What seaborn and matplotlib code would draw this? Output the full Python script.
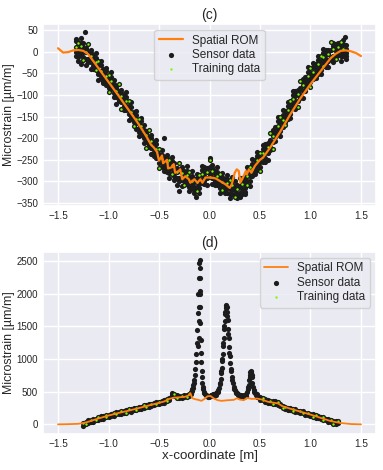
import numpy as np
import matplotlib
matplotlib.use("Agg")
import matplotlib.pyplot as plt
from matplotlib.ticker import MultipleLocator
import seaborn as sns

# -------------------- DATA (c) --------------------

rom_c_x = [-1.5, -1.45, -1.4, -1.35, -1.3, -1.25, -1.2, -1.15, -1.1, -1.0, -0.9, -0.8, -0.7,
           -0.62, -0.58, -0.55, -0.52, -0.5, -0.47, -0.46, -0.42, -0.41, -0.37, -0.355, -0.34,
           -0.305, -0.29, -0.27, -0.24, -0.205, -0.19, -0.15, -0.12, -0.09, -0.07, -0.04, 0.01,
           0.06, 0.11, 0.16, 0.2, 0.22, 0.25, 0.27, 0.29, 0.305, 0.33, 0.36, 0.37, 0.39, 0.415,
           0.45, 0.5, 0.53, 0.6, 0.7, 0.8, 0.9, 1.0, 1.1, 1.2, 1.25, 1.3, 1.35, 1.4, 1.45, 1.5]
rom_c_y = [8, -2, -1, 3, 4, 2, -6, -22, -38, -70, -102, -135, -168,
           -198, -215, -222, -232, -252, -240, -258, -250, -270, -267, -260, -280,
           -276, -272, -295, -288, -295, -303, -295, -303, -295, -303, -291, -291,
           -293, -300, -307, -315, -307, -280, -272, -276, -303, -292, -276, -284, -272, -280,
           -264, -250, -245, -222, -185, -145, -108, -75, -45, -15, -5, 2, 3, 1, -3, -10]

sens_c_x = [
    -1.325, -1.3, -1.275, -1.25, -1.225, -1.2, -1.175, -1.15, -1.125, -1.1, -1.075, -1.05,
    -1.025, -1.0, -0.975, -0.95, -0.925, -0.9, -0.875, -0.85, -0.825, -0.8, -0.775, -0.75,
    -0.725, -0.7, -0.675, -0.65, -0.625, -0.6, -0.575, -0.55, -0.525, -0.5, -0.475, -0.45,
    -0.425, -0.4, -0.375, -0.35, -0.325, -0.3, -0.275, -0.25, -0.225, -0.2, -0.175, -0.15,
    -0.125, -0.1, -0.075, -0.05, -0.025, 0.0, 0.025, 0.05, 0.075, 0.1, 0.125, 0.15,
    0.175, 0.2, 0.225, 0.25, 0.275, 0.3, 0.325, 0.35, 0.375, 0.4, 0.425, 0.45,
    0.475, 0.5, 0.525, 0.55, 0.575, 0.6, 0.625, 0.65, 0.675, 0.7, 0.725, 0.75,
    0.775, 0.8, 0.825, 0.85, 0.875, 0.9, 0.925, 0.95, 0.975, 1.0, 1.025, 1.05,
    1.075, 1.1, 1.125, 1.15, 1.175, 1.2, 1.225, 1.25, 1.275, 1.3, 1.325, 1.35]
sens_c_hi = [
    30, 20, 32, 20, 9, 17, 5, -8, -2, -21, -22, -41,
    -38, -53, -48, -65, -80, -75, -88, -101, -94, -113, -117, -139,
    -138, -155, -153, -170, -183, -180, -193, -208, -204, -225, -227, -244,
    -238, -250, -243, -257, -268, -258, -267, -276, -264, -279, -277, -294,
    -283, -285, -265, -267, -268, -250, -262, -276, -267, -283, -280, -294,
    -286, -297, -289, -300, -308, -293, -292, -291, -267, -266, -249, -251,
    -233, -235, -215, -214, -210, -187, -180, -174, -150, -151, -135, -137,
    -116, -113, -91, -92, -88, -67, -62, -58, -36, -38, -25, -29,
    -11, -11, 7, 4, 4, 22, 20, 17, 19, 23, 28, 16]
sens_c_up = [
    24, 6, 20, 12, 2, 2, -4, -14, -14, -30, -31, -50,
    -45, -62, -58, -74, -84, -92, -95, -108, -104, -125, -128, -146,
    -146, -166, -161, -180, -188, -198, -200, -216, -214, -236, -238, -253,
    -247, -260, -252, -268, -272, -275, -274, -284, -275, -290, -288, -302,
    -292, -296, -274, -278, -272, -266, -270, -284, -278, -294, -290, -303,
    -295, -308, -298, -310, -313, -310, -299, -299, -278, -277, -260, -260,
    -242, -245, -224, -224, -215, -204, -187, -182, -160, -162, -146, -146,
    -125, -123, -100, -102, -93, -84, -69, -66, -46, -49, -36, -38,
    -20, -22, -3, -6, -1, 5, 13, 9, 15, 12, 17, 7]
sens_c_mid = [
    12, -1, 13, -1, -1, -17, -9, -24, -23, -43, -44, -59,
    -56, -74, -67, -86, -90, -109, -102, -117, -115, -135, -139, -157,
    -156, -176, -172, -191, -193, -214, -207, -224, -225, -247, -249, -262,
    -256, -271, -262, -278, -278, -292, -281, -292, -285, -301, -299, -312,
    -301, -306, -284, -288, -278, -284, -276, -292, -288, -305, -302, -312,
    -304, -318, -308, -321, -318, -327, -306, -307, -288, -288, -271, -269,
    -251, -256, -234, -235, -220, -221, -194, -190, -171, -173, -157, -155,
    -134, -134, -110, -113, -98, -101, -76, -74, -57, -60, -47, -47,
    -29, -32, -12, -17, -6, -12, 6, 1, 12, 1, 6, -2]
sens_c_dn = [
    0, -12, 5, -12, -18, -21, -24, -33, -34, -52, -54, -67,
    -68, -83, -76, -96, -104, -112, -117, -125, -126, -145, -148, -163,
    -166, -186, -182, -200, -208, -218, -222, -232, -236, -258, -257, -269,
    -267, -280, -272, -288, -293, -295, -296, -300, -295, -312, -308, -319,
    -312, -316, -294, -298, -293, -288, -291, -300, -298, -316, -310, -319,
    -315, -328, -318, -328, -328, -330, -318, -315, -298, -299, -280, -276,
    -262, -266, -244, -245, -235, -224, -209, -198, -181, -184, -166, -162,
    -145, -144, -120, -122, -113, -104, -91, -82, -67, -71, -56, -54,
    -40, -42, -22, -26, -21, -15, -9, -8, 2, -10, -3, -9]
sens_c_lo = [
    -10, -21, -7, -20, -31, -23, -39, -41, -43, -65, -61, -73,
    -78, -94, -87, -105, -120, -115, -132, -134, -135, -157, -156, -171,
    -178, -196, -192, -210, -223, -220, -237, -241, -245, -269, -266, -276,
    -278, -291, -282, -297, -308, -298, -311, -309, -305, -323, -316, -326,
    -323, -326, -304, -307, -308, -290, -306, -309, -308, -327, -319, -326,
    -326, -338, -328, -335, -338, -333, -330, -324, -308, -310, -288, -283,
    -273, -276, -254, -254, -250, -227, -224, -207, -191, -195, -174, -169,
    -156, -154, -130, -132, -128, -107, -106, -91, -77, -82, -64, -61,
    -51, -52, -32, -36, -36, -18, -24, -16, -8, -21, -11, -16]
outl_c_x = [-1.23, -1.27, 1.34, -0.45, 0.0, -0.13, 0.3, 0.35, -0.3, -1.31]
outl_c_y = [45, -28, 33, -200, -245, -337, -337, -330, -322, 25]

# -------------------- DATA (d) --------------------

rom_d_x = [-1.5, -1.4, -1.3, -1.25, -1.2, -1.1, -1.0, -0.9, -0.8, -0.7, -0.6, -0.5, -0.45,
           -0.4, -0.35, -0.3, -0.25, -0.21, -0.19, -0.17, -0.14, -0.11, -0.08, -0.05, -0.02,
           0.01, 0.04, 0.08, 0.12, 0.18, 0.24, 0.27, 0.3, 0.34, 0.37, 0.42, 0.47, 0.52, 0.58,
           0.64, 0.68, 0.72, 0.8, 0.9, 1.0, 1.1, 1.2, 1.3, 1.4, 1.5]
rom_d_y = [0, 3, 8, 20, 40, 90, 135, 175, 210, 250, 290, 330, 350,
           390, 410, 415, 420, 440, 480, 400, 385, 375, 360, 390, 430,
           435, 400, 370, 360, 370, 375, 400, 380, 370, 405, 390, 395, 380, 345,
           330, 320, 280, 240, 195, 150, 100, 50, 20, 5, 0]

band_d_x = [
    -1.25, -1.225, -1.2, -1.175, -1.15, -1.125, -1.1, -1.075, -1.05, -1.025, -1.0,
    -0.975, -0.95, -0.925, -0.9, -0.875, -0.85, -0.825, -0.8, -0.775, -0.75, -0.725,
    -0.7, -0.675, -0.65, -0.625, -0.6, -0.575, -0.55, -0.525, -0.5, -0.475, -0.45,
    -0.425, -0.4, -0.375, -0.35, -0.325, -0.3, -0.275, -0.25, -0.225, -0.2,
    0.475, 0.5, 0.525, 0.55, 0.575, 0.6, 0.625, 0.65, 0.675, 0.7, 0.725,
    0.75, 0.775, 0.8, 0.825, 0.85, 0.875, 0.9, 0.925, 0.95, 0.975, 1.0,
    1.025, 1.05, 1.075, 1.1, 1.125, 1.15, 1.175, 1.2, 1.225, 1.25, 1.275]
band_d_hi = [
    28, 37, 62, 67, 85, 88, 107, 124, 125, 143, 149,
    163, 167, 187, 190, 203, 202, 217, 234, 233, 249, 254,
    268, 272, 292, 295, 312, 310, 327, 344, 343, 361, 369,
    388, 402, 482, 465, 445, 430, 437, 449, 448, 469,
    458, 412, 407, 385, 375, 355, 352, 354, 338, 319, 284,
    268, 250, 250, 233, 228, 208, 205, 202, 179, 174, 159,
    153, 137, 135, 115, 108, 85, 79, 72, 51, 49, 49]
band_d_lo = [
    -18, 3, 28, 32, 40, 64, 71, 89, 89, 107, 114,
    129, 133, 153, 155, 158, 178, 181, 199, 197, 213, 219,
    234, 238, 258, 260, 267, 286, 291, 309, 307, 325, 334,
    354, 368, 448, 430, 400, 406, 401, 414, 412, 433,
    424, 378, 373, 350, 330, 331, 316, 319, 302, 283, 249,
    234, 216, 216, 198, 183, 184, 169, 167, 143, 138, 124,
    119, 103, 101, 80, 63, 61, 43, 37, 2, 13, 14]

peak_d_x = [
    -0.19, -0.18, -0.17, -0.16, -0.15, -0.145, -0.14, -0.135, -0.13, -0.125, -0.12, -0.115,
    -0.11, -0.105, -0.1, -0.098, -0.112, -0.108, -0.104, -0.102, -0.099, -0.096, -0.094,
    -0.095, -0.092, -0.09, -0.088, -0.085, -0.082, -0.078, -0.074, -0.07, -0.065, -0.06,
    -0.05, -0.04, -0.03, -0.02, -0.01, 0.0, 0.01, 0.02, 0.03,
    -0.185, -0.175, -0.165, -0.155, -0.05, -0.035, -0.025, -0.015, -0.005, 0.005, 0.015, 0.025,
    0.04, 0.05, 0.06, 0.07, 0.08, 0.09, 0.1, 0.11, 0.115, 0.12, 0.125, 0.13, 0.135, 0.14,
    0.145, 0.15, 0.155, 0.16, 0.165, 0.17, 0.175, 0.18, 0.185, 0.19, 0.195, 0.2, 0.205,
    0.21, 0.22, 0.23, 0.24, 0.25, 0.26, 0.27, 0.28, 0.29, 0.3, 0.31, 0.32,
    0.045, 0.065, 0.085, 0.105, 0.118, 0.128, 0.138, 0.148, 0.158, 0.168, 0.178, 0.188,
    0.198, 0.212, 0.225, 0.245, 0.265, 0.285, 0.305,
    0.33, 0.34, 0.35, 0.36, 0.37, 0.38, 0.39, 0.395, 0.4, 0.405, 0.41, 0.415, 0.42, 0.425,
    0.43, 0.44, 0.45, 0.46, 0.386, 0.398, 0.408, 0.418, 0.345, 0.365, 0.445]
peak_d_y = [
    470, 500, 540, 600, 680, 750, 850, 950, 1080, 1250, 1450, 1700,
    2000, 2250, 2480, 2520, 1200, 1320, 1580, 1800, 2050, 2250, 2400,
    2000, 1800, 1550, 1300, 1100, 950, 820, 720, 640, 580, 540,
    500, 470, 450, 440, 435, 440, 445, 450, 460,
    460, 510, 560, 640, 480, 455, 430, 420, 425, 430, 430, 445,
    460, 465, 480, 500, 520, 560, 620, 700, 780, 870, 970, 1080, 1200, 1330,
    1460, 1580, 1690, 1780, 1830, 1800, 1720, 1600, 1460, 1320, 1180, 1050, 940,
    850, 720, 630, 570, 530, 500, 480, 470, 455, 450, 445, 440,
    440, 455, 500, 640, 820, 1000, 1250, 1500, 1720, 1820, 1660, 1380,
    1100, 820, 680, 540, 480, 450, 430,
    440, 445, 455, 470, 500, 540, 610, 680, 750, 800, 820, 790, 720, 640,
    580, 520, 480, 450, 580, 720, 810, 760, 425, 440, 490]

ROM_COLOR = "#ff7f0e"
SENSOR_COLOR = "#1c1c1c"
TRAIN_COLOR = "#7cfc00"
YLABEL = "Microstrain [\u00b5m/m]"

# -------------------- PLOT --------------------

sns.set_theme(style="darkgrid")
plt.rcParams["font.family"] = ["Liberation Sans", "DejaVu Sans"]
plt.rcParams["xtick.labelsize"] = 7.2
plt.rcParams["ytick.labelsize"] = 7.0

fig, (ax1, ax2) = plt.subplots(2, 1, figsize=(3.83, 4.70), dpi=100)
fig.subplots_adjust(left=0.112, right=0.982, top=0.949, bottom=0.077, hspace=0.25)

legend_kw = dict(fontsize=8.5, borderpad=0.4, handletextpad=0.8,
                 labelspacing=0.2, handlelength=2.0)

# (c)
sc_x = sens_c_x * 5 + outl_c_x
sc_y = sens_c_hi + sens_c_up + sens_c_mid + sens_c_dn + sens_c_lo + outl_c_y
tr_c_x = sens_c_x[::2] + sens_c_x[1::4] + sens_c_x[3::5]
tr_c_y = sens_c_mid[::2] + sens_c_hi[1::4] + sens_c_lo[3::5]

sns.lineplot(x=rom_c_x, y=rom_c_y, ax=ax1, color=ROM_COLOR, lw=1.6,
             sort=False, estimator=None, label="Spatial ROM")
sns.scatterplot(x=sc_x, y=sc_y, ax=ax1, color=SENSOR_COLOR, s=14, linewidth=0,
                label="Sensor data")
sns.scatterplot(x=tr_c_x, y=tr_c_y, ax=ax1, color=TRAIN_COLOR, s=3, linewidth=0,
                label="Training data")
ax1.set_title("(c)", fontsize=10, pad=3.5)
ax1.set_ylabel(YLABEL, fontsize=8.9)
ax1.xaxis.set_major_locator(MultipleLocator(0.5))
ax1.yaxis.set_major_locator(MultipleLocator(50))
ax1.legend(loc="upper center", **legend_kw)

# (d)
sd_x = band_d_x * 2 + peak_d_x
sd_y = band_d_hi + band_d_lo + peak_d_y
tr_d_x = band_d_x[::3] + band_d_x[1::4]
tr_d_y = band_d_hi[::3] + band_d_lo[1::4]

sns.lineplot(x=rom_d_x, y=rom_d_y, ax=ax2, color=ROM_COLOR, lw=1.3,
             sort=False, estimator=None, label="Spatial ROM")
sns.scatterplot(x=sd_x, y=sd_y, ax=ax2, color=SENSOR_COLOR, s=14, linewidth=0,
                label="Sensor data")
sns.scatterplot(x=tr_d_x, y=tr_d_y, ax=ax2, color=TRAIN_COLOR, s=3, linewidth=0,
                label="Training data")
ax2.set_title("(d)", fontsize=10, pad=3.5)
ax2.set_xlabel("x-coordinate [m]", fontsize=9.6, labelpad=1)
ax2.set_ylabel(YLABEL, fontsize=8.9)
ax2.xaxis.set_major_locator(MultipleLocator(0.5))
ax2.yaxis.set_major_locator(MultipleLocator(500))
ax2.legend(loc="upper right", **legend_kw)

for ax in (ax1, ax2):
    ax.tick_params(length=0, pad=3.5)
    ax.yaxis.set_label_coords(-0.083, 0.5)

fig.savefig("out.png", dpi=100)
